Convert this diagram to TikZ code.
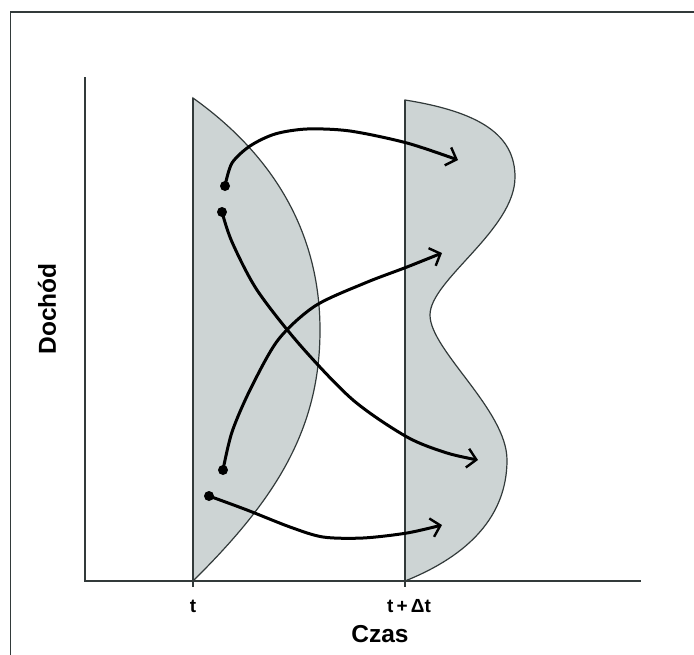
\documentclass[tikz,border=0pt]{standalone}
\usepackage{fontspec}
\setmainfont{Liberation Sans}
\usetikzlibrary{arrows.meta}
\definecolor{shade}{RGB}{205,212,212}
\definecolor{axisgray}{RGB}{50,58,58}
\begin{document}
\begin{tikzpicture}[x=1pt,y=-1pt,
  region/.style={fill=shade,draw=axisgray,line width=1.2pt},
  axisline/.style={draw=axisgray,line width=1.9pt},
  flow/.style={line width=3pt,line cap=round,-{Straight Barb[length=9pt,width=19pt,line width=2.4pt]}},
  dotnode/.style={circle,fill=black,inner sep=0pt,minimum size=10pt},
  ticklbl/.style={font=\bfseries\fontsize{19}{22}\selectfont,anchor=base,inner sep=0pt},
  axlbl/.style={font=\bfseries\fontsize{24.5}{28}\selectfont,anchor=base,inner sep=0pt}]
\useasboundingbox (0,0) rectangle (694,654);
% outer frame (only top and left visible)
\draw[draw=axisgray,line width=1.8pt] (10.5,660) -- (10.5,12) -- (700,12);

% shaded distributions
\filldraw[region] (193,98) .. controls (280,160) and (320,240) .. (320,330)
  .. controls (320,430) and (275,500) .. (193,581) -- cycle;
\filldraw[region] (405,100) .. controls (480,112) and (515,135) .. (515,177)
  .. controls (515,230) and (430,280) .. (430,315)
  .. controls (430,350) and (507,410) .. (507,460)
  .. controls (507,515) and (470,555) .. (405,581) -- cycle;

% axes
\coordinate (origin) at (85,581);
\coordinate (ytop) at (85,77);
\coordinate (xend) at (641,581);
\draw[axisline] (ytop) -- (origin) -- (xend);
\coordinate (t0top) at (193,98);
\coordinate (t0bot) at (193,587);
\coordinate (t1top) at (405,100);
\coordinate (t1bot) at (405,587);
\draw[axisline,line width=1.4pt] (t0top) -- (t0bot);
\draw[axisline,line width=1.4pt] (t1top) -- (t1bot);

% labels
\node[ticklbl] (lt) at (193,612) {t};
\node[ticklbl] (ltd) at (409,612) {t\,+\,Δt};
\node[axlbl] (lx) at (380,642) {Czas};
\node[axlbl,rotate=90] (ly) at (56,309) {Dochód};

% dots
\node[dotnode] (d1) at (225,186) {};
\node[dotnode] (d2) at (222,212) {};
\node[dotnode] (d3) at (223,470) {};
\node[dotnode] (d4) at (209,496) {};
\coordinate (e1) at (458,160);
\coordinate (e2) at (478,460);
\coordinate (e3) at (442,253);
\coordinate (e4) at (442,525);

% flows
\draw[flow] plot[smooth] coordinates {(d1.center) (232,163) (250,146) (275,134) (307,129) (350,131) (407,143) (e1)};
\draw[flow] plot[smooth] coordinates {(d2.center) (232,242) (257,290) (300,345) (353,400) (407,437) (447,453) (e2)};
\draw[flow] plot[smooth] coordinates {(d3.center) (232,432) (250,390) (278,340) (315,306) (365,283) (407,267) (e3)};
\draw[flow] plot[smooth] coordinates {(d4.center) (247,510) (290,527) (323,537) (363,538) (407,533) (e4)};
\end{tikzpicture}
\end{document}
